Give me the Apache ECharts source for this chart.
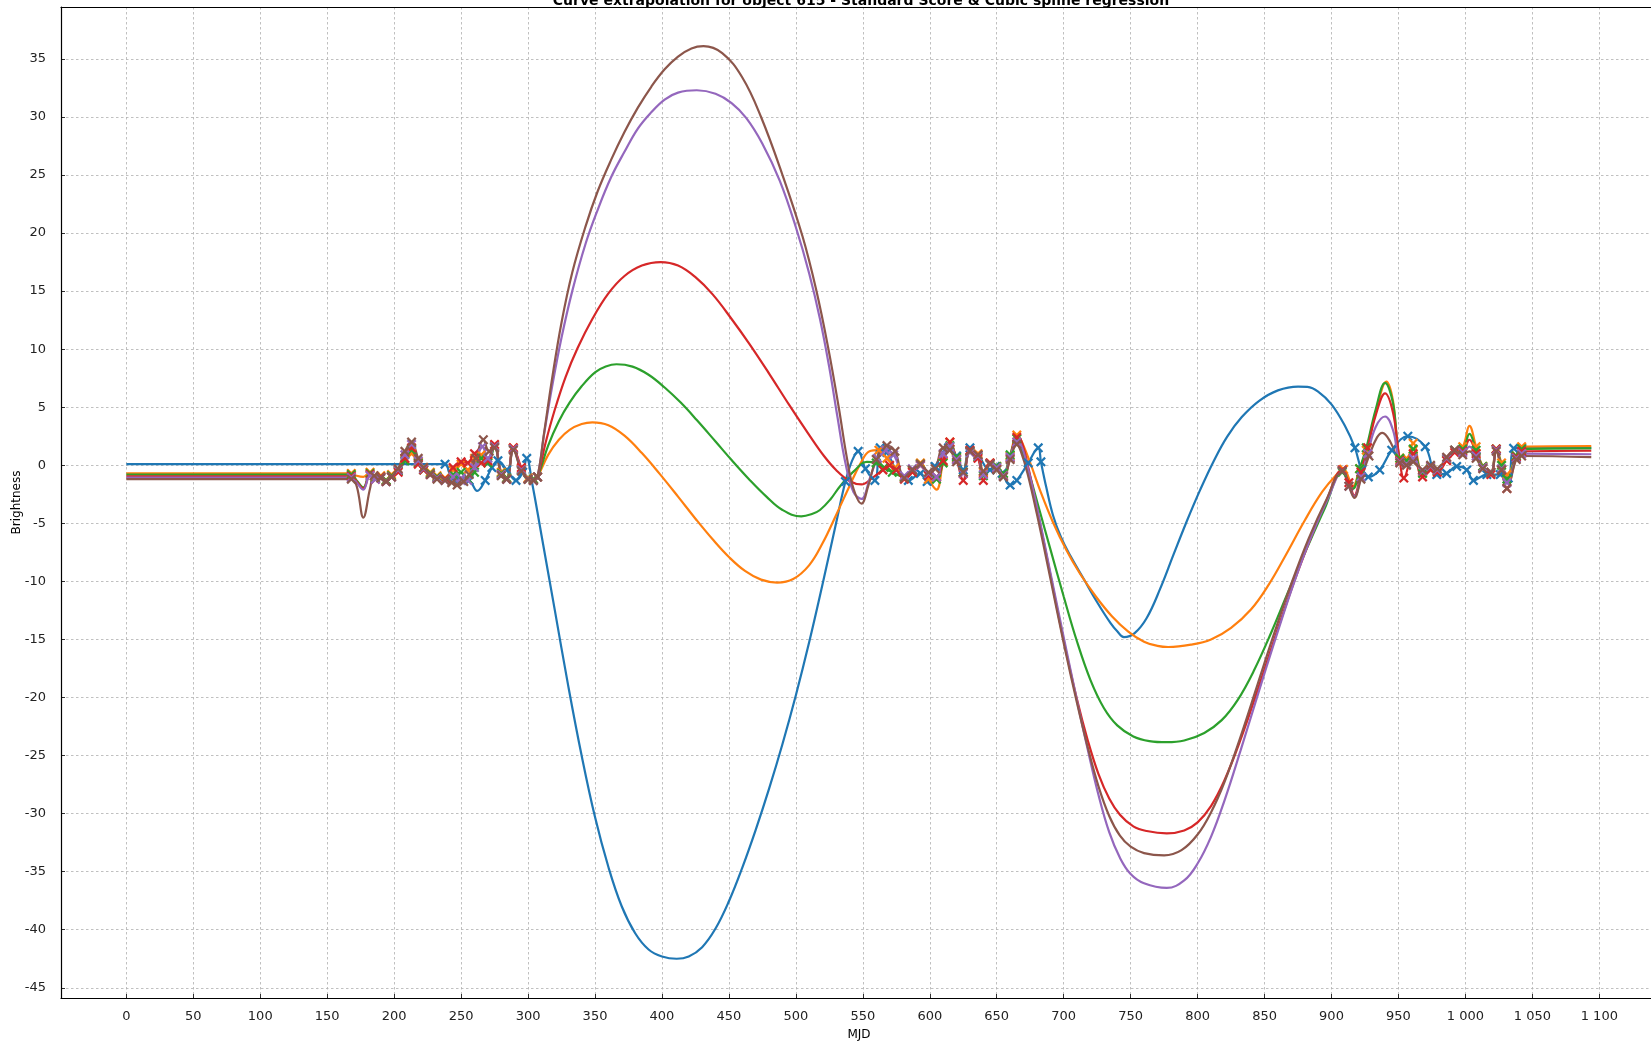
<!DOCTYPE html>
<html>
<head>
<meta charset="utf-8">
<script src="https://cdn.jsdelivr.net/npm/echarts@6/dist/echarts.min.js"></script>
<style>
  html, body { margin: 0; padding: 0; background: #ffffff; overflow: hidden; }
  #chart { width: 1651px; height: 1045px; }
</style>
</head>
<body>
<div id="chart"></div>
<script>
// Tick values for both axes
const mjdTicks = [0, 50, 100, 150, 200, 250, 300, 350, 400, 450, 500, 550, 600, 650, 700, 750, 800, 850, 900, 950, 1000, 1050, 1100];
const brightnessTicks = [-45, -40, -35, -30, -25, -20, -15, -10, -5, 0, 5, 10, 15, 20, 25, 30, 35];

// Spline-regressed light curve per passband: [MJD, standardised brightness]
const uCurve = [[0,0.1],[238,0.1],[241,-0.6],[244,-1.1],[250,-1.2],[256,-1.3],[262,-2.2],[268,-1.3],[273,-0.2],[277.5,0.4],[284,-0.4],[291,-1.3],[296,-0.6],[299,0.6],[303,-1.5],[310,-6.0],[320,-12.5],[330,-19.0],[340,-25.0],[350,-30.3],[360,-34.6],[370,-38.0],[380,-40.3],[390,-41.7],[400,-42.3],[411,-42.5],[420,-42.3],[430,-41.5],[440,-39.9],[450,-37.55],[460,-34.65],[470,-31.4],[480,-27.85],[490,-24.0],[500,-19.8],[510,-15.2],[520,-10.2],[530,-5.0],[537,-1.4],[542,0.4],[546.5,1.2],[552,-0.3],[559,-1.3],[563,1.5],[568,1.1],[575,-0.4],[584,-1.3],[593,-0.7],[598,-1.4],[604,-0.1],[614,1.5],[620,0.8],[625,-0.4],[630,1.5],[636,0.9],[645,-0.4],[649,-0.1],[654,-0.7],[660,-1.7],[665,-1.3],[673.5,0.2],[681,1.5],[683,0.3],[687,-1.9],[692,-4.3],[698,-6.2],[705,-7.8],[715,-9.8],[725,-11.8],[735,-13.6],[740,-14.3],[745,-14.8],[753,-14.45],[762,-13.15],[772,-10.65],[782,-7.7],[792,-4.8],[802,-2.1],[812,0.35],[822,2.45],[833,4.15],[846,5.55],[860,6.45],[875,6.78],[882,6.75],[890,6.35],[900,5.25],[910,3.4],[917.5,1.5],[922.5,-0.4],[927.5,-1.0],[936,-0.4],[945,1.3],[957,2.5],[970,1.6],[978.6,-0.8],[986,-0.7],[993.5,-0.1],[1001,-0.4],[1006,-1.3],[1016,-0.8],[1026,-0.8],[1032,-1.1],[1036,1.46],[1042,1.5],[1094,1.5]];
const gCurve = [[0,-0.7],[168,-0.7],[172,-0.9],[177,-1.0],[182,-0.6],[186,-1.0],[190,-0.9],[194,-1.3],[198,-0.8],[203,-0.4],[208,0.5],[213,1.0],[218,0.3],[222,-0.2],[227,-0.6],[232,-0.9],[238,-1.1],[244,-0.4],[250,0.1],[255,-0.4],[260,0.6],[265,0.9],[270,0.3],[275,1.7],[280,-0.6],[284,-1.1],[289,1.5],[295,-0.3],[300,-1.1],[304,-1.2],[307,-1.0],[315,0.9],[323,2.2],[331,3.05],[340,3.55],[348,3.7],[360,3.45],[372,2.55],[385,1.05],[398,-0.7],[412,-2.7],[425,-4.6],[438,-6.4],[450,-7.9],[462,-9.1],[474,-9.85],[486,-10.1],[498,-9.8],[510,-8.6],[520,-6.7],[530,-4.3],[540,-1.8],[548,0.1],[555,1.2],[562,1.3],[568,0.6],[574,-0.2],[581,-1.0],[587,-0.5],[593,0.2],[599,-1.2],[605,-2.1],[610,0.3],[615,2.0],[620,0.6],[625,-0.6],[630,1.2],[636,1.0],[640,-0.6],[645,0.2],[650,-0.1],[655,-0.8],[660,0.8],[665,2.6],[668,2.2],[675,0.2],[683,-2.35],[692,-4.9],[702,-7.3],[712,-9.3],[724,-11.3],[736,-13.0],[748,-14.3],[760,-15.2],[770,-15.55],[778,-15.65],[795,-15.45],[810,-15.0],[825,-14.0],[840,-12.4],[853,-10.3],[866,-7.7],[880,-4.75],[893,-2.3],[903,-0.9],[909,-0.35],[916,-1.8],[921,-0.3],[926,1.3],[933,4.5],[941,7.2],[946,5.5],[951,0.6],[956,0.6],[961,1.9],[968,-0.6],[974,-0.2],[979,-0.5],[986,0.5],[992,1.3],[998,1.6],[1003,3.4],[1008,1.6],[1013,-0.1],[1019,-0.6],[1023,1.4],[1027,0.2],[1031,-0.8],[1038,0.8],[1042,1.6],[1094,1.65]];
const rCurve = [[0,-0.8],[168,-0.8],[172,-1.3],[177,-1.9],[182,-0.7],[186,-1.1],[190,-1.0],[194,-1.3],[198,-0.9],[203,-0.5],[208,0.4],[213,1.3],[218,0.2],[222,-0.4],[227,-0.7],[232,-1.0],[238,-1.2],[244,-0.8],[250,-0.6],[255,-1.2],[260,-0.6],[265,0.6],[270,0.2],[275,1.6],[280,-0.7],[284,-1.1],[289,1.4],[295,-0.4],[300,-1.2],[304,-1.2],[307,-1.0],[315,1.7],[323,3.8],[331,5.4],[340,6.8],[350,8.0],[358,8.5],[366,8.7],[378,8.5],[390,7.8],[402,6.7],[414,5.4],[426,3.9],[440,2.05],[452,0.45],[465,-1.2],[478,-2.7],[490,-3.85],[504,-4.4],[512,-4.2],[518,-3.85],[526,-2.9],[533,-1.8],[543,-0.55],[553,0.3],[560,0.2],[566,-0.2],[572,-0.6],[581,-1.0],[587,-0.4],[593,0.1],[599,-0.8],[605,-1.2],[610,0.2],[615,1.7],[620,0.7],[625,-0.6],[630,1.2],[636,0.7],[640,-0.9],[645,0.1],[650,-0.1],[655,-0.7],[660,0.9],[665,2.3],[668,1.5],[674,-0.6],[682,-3.9],[690,-7.2],[700,-11.3],[710,-15.2],[720,-18.5],[730,-20.9],[740,-22.4],[752,-23.35],[764,-23.75],[777,-23.85],[790,-23.7],[805,-23.05],[818,-21.95],[830,-20.2],[842,-17.7],[855,-14.4],[868,-10.8],[882,-7.05],[895,-3.7],[908,-0.6],[916,-2.0],[921,-0.3],[926,1.5],[933,4.8],[940,7.1],[946,5.3],[951,0.6],[956,0.4],[961,1.4],[968,-0.7],[974,-0.3],[979,-0.5],[986,0.5],[992,1.3],[998,1.4],[1003,2.7],[1008,1.3],[1013,-0.1],[1019,-0.7],[1023,1.4],[1027,0],[1031,-1.2],[1038,0.8],[1042,1.4],[1094,1.45]];
const iCurve = [[0,-0.95],[168,-0.95],[172,-1.4],[177,-2.0],[182,-0.8],[186,-1.2],[190,-1.0],[194,-1.4],[198,-1.0],[203,-0.6],[208,0.6],[213,1.5],[218,0.1],[222,-0.4],[227,-0.8],[232,-1.1],[238,-1.2],[244,-0.2],[250,0.3],[255,0.2],[260,1.0],[265,0.2],[270,0.4],[275,1.8],[280,-0.8],[284,-1.2],[289,1.5],[295,-0.2],[300,-1.2],[304,-1.3],[307,-1.0],[313,1.9],[320,4.8],[328,7.6],[337,10.1],[348,12.6],[360,14.8],[372,16.3],[385,17.2],[399,17.5],[412,17.2],[425,16.2],[438,14.7],[452,12.6],[465,10.5],[480,7.9],[495,5.2],[510,2.6],[521,0.8],[530,-0.4],[540,-1.35],[549,-1.65],[557,-1.1],[565,-0.4],[570,0],[575,-0.4],[581,-1.2],[587,-0.6],[593,0.0],[599,-0.9],[605,-1.0],[610,0.4],[615,2.0],[620,0.5],[625,-1.3],[630,1.3],[636,0.6],[640,-1.3],[645,0.2],[650,-0.3],[655,-0.9],[660,0.6],[665,2.4],[668,2.2],[673,0.1],[680,-3.7],[690,-9.4],[700,-15.1],[710,-20.2],[718,-23.7],[726,-26.6],[734,-28.7],[742,-30.1],[752,-31.1],[762,-31.5],[777,-31.7],[790,-31.45],[800,-30.75],[810,-29.35],[820,-27.15],[832,-23.65],[845,-19.3],[858,-14.75],[870,-10.7],[883,-6.7],[896,-3.1],[908,-0.4],[913,-1.5],[917,-2.6],[922,-0.6],[927,1.5],[933,4.3],[940,6.2],[946,4.5],[951,0.4],[954,-1.1],[961,1.0],[968,-1.0],[974,-0.4],[979,-0.6],[986,0.4],[992,1.1],[998,1.2],[1003,2.2],[1008,1.0],[1013,-0.2],[1019,-0.8],[1023,1.4],[1027,-0.4],[1031,-2.0],[1038,0.7],[1042,1.2],[1094,1.25]];
const zCurve = [[0,-1.05],[168,-1.05],[172,-1.5],[177,-2.1],[182,-0.9],[186,-1.2],[190,-1.1],[194,-1.4],[198,-1.0],[203,-0.4],[208,0.9],[213,1.8],[218,0.4],[222,-0.3],[227,-0.8],[232,-1.1],[238,-1.3],[244,-1.0],[250,-1.1],[255,-1.3],[260,-0.2],[266,1.6],[270,0.6],[275,1.6],[280,-0.8],[284,-1.2],[289,1.4],[295,-0.4],[300,-1.2],[304,-1.3],[307,-1.0],[312,2.7],[318,6.8],[325,11.0],[333,15.0],[343,19.1],[352,22.0],[362,24.8],[372,27.0],[382,29.0],[392,30.4],[402,31.5],[412,32.1],[426,32.3],[440,32.0],[452,31.2],[463,29.9],[475,27.7],[488,24.5],[500,20.5],[510,16.5],[518,12.6],[525,8.4],[531,4.2],[537,0.2],[543,-2.3],[549,-2.9],[555,-1.2],[561,0.6],[567,1.3],[573,0.9],[581,-0.9],[587,-0.3],[593,0.0],[599,-0.7],[605,-1.0],[610,1.0],[615,1.6],[620,0.5],[625,-0.7],[630,1.1],[636,0.8],[640,-0.8],[645,0.1],[650,-0.2],[655,-0.9],[660,0.7],[665,2.0],[668,1.8],[673,-0.1],[680,-3.6],[690,-9.2],[700,-14.8],[710,-20.3],[718,-24.5],[726,-28.4],[734,-31.6],[742,-33.8],[750,-35.2],[760,-36.0],[777,-36.4],[790,-35.75],[800,-34.3],[810,-32.0],[820,-28.9],[832,-24.6],[845,-19.75],[858,-15.0],[872,-10.1],[885,-6.1],[898,-2.7],[908,-0.5],[913,-1.8],[917,-2.7],[922,-1],[927,1.0],[933,3.3],[940,4.2],[946,3.0],[951,0.3],[956,0.1],[961,0.6],[968,-0.5],[974,-0.1],[979,-0.4],[986,0.6],[992,1.3],[998,1.1],[1003,1.6],[1008,0.8],[1013,-0.2],[1019,-0.6],[1023,1.3],[1027,-0.3],[1031,-1.5],[1038,0.6],[1042,1.0],[1094,0.95]];
const yCurve = [[0,-1.2],[168,-1.2],[172,-1.8],[177,-4.5],[182,-2.0],[185,-0.9],[190,-1.1],[194,-1.4],[198,-1.0],[203,-0.3],[208,1.2],[213,2.0],[218,0.6],[222,-0.2],[227,-0.8],[232,-1.2],[238,-1.3],[243,-1.5],[247,-1.7],[252,-1.4],[256,-0.8],[261,0.6],[266.6,2.2],[271,1.2],[275,1.5],[280,-0.9],[284,-1.2],[289,1.3],[295,-0.5],[300,-1.2],[304,-1.3],[307,-1.0],[312,2.8],[318,7.5],[325,12.3],[333,16.6],[343,20.6],[352,23.6],[362,26.3],[372,28.7],[382,30.8],[392,32.6],[402,34.1],[412,35.2],[422,35.9],[431,36.1],[445,35.5],[460,33.4],[474,30.0],[490,25.0],[505,19.7],[515,15.2],[524,10.2],[532,5.0],[538,0.7],[543,-2.0],[549,-3.3],[554,-1.8],[560,0.5],[568,1.7],[574,1.2],[581,-1.1],[587,-0.4],[593,0.1],[599,-0.6],[604,-0.3],[610,1.5],[615,1.3],[620,0.3],[625,-0.6],[630,1.2],[636,0.9],[640,-0.5],[645,0.1],[650,-0.4],[655,-1.0],[660,0.5],[665,1.8],[668,1.2],[673,-0.7],[680,-4.2],[690,-9.7],[700,-15.3],[710,-20.5],[718,-24.3],[726,-27.65],[734,-30.2],[742,-31.9],[750,-32.85],[760,-33.4],[775,-33.6],[788,-33.15],[800,-31.8],[810,-29.9],[820,-27.3],[832,-23.4],[845,-18.8],[858,-14.2],[870,-10.2],[883,-6.3],[896,-3.0],[908,-0.5],[913,-1.8],[917,-2.8],[922,-1.2],[928,0.8],[934,2.4],[938,2.8],[944,2.0],[951,0.2],[956,0.0],[961,0.3],[968,-0.4],[974,0.0],[979,-0.3],[986,0.7],[992,1.3],[998,0.9],[1003,1.2],[1008,0.6],[1013,-0.3],[1019,-0.6],[1023,1.2],[1027,-0.4],[1031,-2.0],[1038,0.5],[1042,0.8],[1094,0.7]];

// Observation nights (MJD) per passband, drawn with cross markers on the curve
const uObs = [238,244,250,256,268,273,277.5,284,291,296,299,537,546.5,552,559,563,568,575,584,593,598,604,614,620,625,630,636,645,649,654,660,665,673.5,681,683,917.5,922.5,927.5,936,945,957,970,978.6,986,993.5,1001,1006,1016,1026,1032,1036,1042];
const gObs = [168,182,186,190,194,198,203,208,213,218,222,227,232,238,244,250,255,260,265,270,275,280,284,289,295,300,304,307,562,568,574,581,587,593,599,610,615,620,625,630,636,640,645,650,655,660,665,909,921,926,951,956,961,968,974,979,986,992,998,1008,1013,1019,1023,1027,1031,1038,1042];
const rObs = [168,182,186,190,194,198,203,208,213,218,222,227,232,238,244,250,255,260,265,270,275,280,284,289,295,300,304,307,560,566,572,581,587,593,599,605,610,615,620,625,630,636,640,645,650,655,660,665,908,921,926,951,956,961,968,974,979,986,992,998,1008,1013,1019,1023,1027,1031,1038,1042];
const iObs = [168,182,186,190,194,198,203,208,213,218,222,227,232,238,244,250,255,260,265,270,275,280,284,289,295,300,304,307,565,570,575,581,587,593,599,605,610,615,620,625,630,636,640,645,650,655,660,665,908,913,922,927,951,954,961,968,974,979,986,992,998,1008,1013,1019,1023,1027,1031,1038,1042];
const zObs = [168,182,186,190,194,198,203,208,213,218,222,227,232,238,244,250,255,260,266,270,275,280,284,289,295,300,304,307,561,567,573,581,587,593,599,605,610,615,620,625,630,636,640,645,650,655,660,665,908,913,922,927,951,956,961,968,974,979,986,992,998,1008,1013,1019,1023,1027,1031,1038,1042];
const yObs = [168,185,190,194,198,203,208,213,218,222,227,232,238,243,247,252,256,261,266.6,271,275,280,284,289,295,300,304,307,560,568,574,581,587,593,599,604,610,615,620,625,630,636,640,645,650,655,660,665,908,913,922,928,951,956,961,968,974,979,986,992,998,1008,1013,1019,1023,1027,1031,1038,1042];

const bands = [
  { name: 'u', color: '#1f77b4', curve: uCurve, obs: uObs },
  { name: 'g', color: '#ff7f0e', curve: gCurve, obs: gObs },
  { name: 'r', color: '#2ca02c', curve: rCurve, obs: rObs },
  { name: 'i', color: '#d62728', curve: iCurve, obs: iObs },
  { name: 'z', color: '#9467bd', curve: zCurve, obs: zObs },
  { name: 'y', color: '#8c564b', curve: yCurve, obs: yObs }
];

const CROSS = 'path://M0,1.6L1.6,0L5,3.4L8.4,0L10,1.6L6.6,5L10,8.4L8.4,10L5,6.6L1.6,10L0,8.4L3.4,5Z';
const FONT = '"DejaVu Sans", "Liberation Sans", sans-serif';

function withMarkers(curve, obs) {
  const nights = new Set(obs);
  return curve.map(([x, y]) => nights.has(x)
    ? { value: [x, y] }
    : { value: [x, y], symbol: 'none' });
}

function groupThousands(v) {
  const s = String(Math.abs(v)).replace(/\B(?=(\d{3})+(?!\d))/g, ' ');
  return (v < 0 ? '-' : '') + s;
}

const gridLine = { show: true, lineStyle: { color: '#b0b0b0', width: 0.8, type: [2.5, 2.5] } };
const spine = { show: true, onZero: false, lineStyle: { color: '#000000', width: 1.2 } };

const chart = echarts.init(document.getElementById('chart'), null, { renderer: 'canvas' });
chart.setOption({
  animation: false,
  backgroundColor: '#ffffff',
  title: {
    text: 'Curve extrapolation for object 615 - Standard Score & Cubic spline regression',
    left: 856, top: -11, textAlign: 'center',
    textStyle: { fontFamily: FONT, fontSize: 14, fontWeight: 'bold', color: '#000000' }
  },
  grid: { left: 61, top: 7, right: 0, bottom: 47, containLabel: false, outerBoundsMode: 'none' },
  xAxis: [{
    type: 'value', min: -48.8, max: 1138.6, position: 'bottom',
    name: 'MJD', nameLocation: 'middle', nameGap: 31, nameMoveOverlap: false,
    nameTextStyle: { fontFamily: FONT, fontSize: 12, color: '#000000', padding: [0, 0, 0, 6] },
    axisLine: spine,
    axisTick: { show: true, inside: true, length: 4, customValues: mjdTicks, lineStyle: { color: '#000000', width: 0.8 } },
    axisLabel: { customValues: mjdTicks, formatter: groupThousands, margin: 12, fontFamily: FONT, fontSize: 13, color: '#222222' },
    splitLine: gridLine
  }, {
    type: 'value', min: -48.8, max: 1138.6, position: 'top',
    axisLine: spine, axisTick: { show: false }, axisLabel: { show: false }, splitLine: { show: false }
  }],
  yAxis: {
    type: 'value', min: -45.88, max: 39.47, position: 'left',
    name: 'Brightness', nameLocation: 'middle', nameGap: 38, nameRotate: 90, nameMoveOverlap: false,
    nameTextStyle: { fontFamily: FONT, fontSize: 12, color: '#000000' },
    axisLine: spine,
    axisTick: { show: true, inside: true, length: 4, customValues: brightnessTicks, lineStyle: { color: '#000000', width: 0.8 } },
    axisLabel: { customValues: brightnessTicks, formatter: groupThousands, margin: 15, fontFamily: FONT, fontSize: 13, color: '#222222' },
    splitLine: gridLine
  },
  series: bands.map(b => ({
    name: b.name,
    type: 'line',
    xAxisIndex: 0,
    data: withMarkers(b.curve, b.obs),
    smooth: 0.4,
    showSymbol: true,
    showAllSymbol: true,
    symbol: CROSS,
    symbolSize: 10,
    lineStyle: { color: b.color, width: 2.2 },
    itemStyle: { color: b.color },
    emphasis: { disabled: true },
    z: 3
  }))
});
</script>
</body>
</html>
